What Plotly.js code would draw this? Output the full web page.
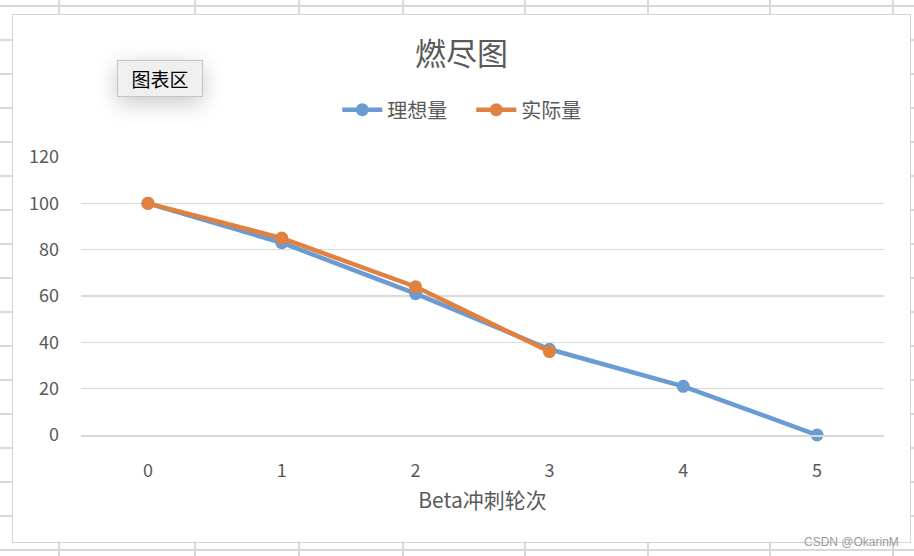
<!DOCTYPE html>
<html>
<head>
<meta charset="utf-8">
<script src="https://cdn.plot.ly/plotly-3.0.1.min.js"></script>
<style>
  html, body { margin: 0; padding: 0; width: 914px; height: 556px; overflow: hidden; background: #ffffff; position: relative; }
  .gl { position: absolute; background: #d9d9d9; }
  #chartbox { position: absolute; left: 12px; top: 14px; width: 899px; height: 529px; background: #fff; border: 1px solid #d4d4d4; box-sizing: border-box; }
  #plot { position: absolute; left: 0; top: 0; width: 897px; height: 527px; }
  #tip { position: absolute; left: 117px; top: 60px; width: 84px; height: 35px; background: #efefef; border: 1px solid #c4c4c4;
         box-shadow: 0 6px 22px rgba(0,0,0,0.22); font-family: "Noto Sans CJK SC", sans-serif; font-size: 19px; color: #000;
         line-height: 35px; text-align: center; z-index: 5; }
  #wm { position: absolute; left: 804px; top: 535px; font-family: "Liberation Sans", Arial, sans-serif; font-size: 12px; color: #9a9a9a; z-index: 6; }
</style>
</head>
<body>
<div id="chartbox"><div id="plot"></div></div>
<div id="tip">图表区</div>
<div id="wm">CSDN @OkarinM</div>
<script>
// ---- data ----
const sprints = ['0', '1', '2', '3', '4', '5'];
const idealValues = [100, 83, 61, 37, 21, 0];
const actualSprints = ['0', '1', '2', '3'];
const actualValues = [100, 85, 64, 36];
const yTicks = [0, 20, 40, 60, 80, 100, 120];
const chartTitle = '燃尽图';
const xTitle = 'Beta冲刺轮次';
const idealName = '理想量';
const actualName = '实际量';

// ---- spreadsheet background grid ----
const colLines = [58, 194, 298, 402, 524, 647, 769, 892];
for (const x of colLines) {
  const d = document.createElement('div'); d.className = 'gl';
  d.style.left = x + 'px'; d.style.top = '0px'; d.style.width = '2px'; d.style.height = '556px';
  document.body.insertBefore(d, document.body.firstChild);
}
for (let y = 5; y < 556; y += 34) {
  const d = document.createElement('div'); d.className = 'gl';
  d.style.left = '0px'; d.style.top = y + 'px'; d.style.width = '914px'; d.style.height = '2px';
  document.body.insertBefore(d, document.body.firstChild);
}

const fontFam = '"Noto Sans CJK SC", "Noto Sans", sans-serif';
const blue = '#6a9bd2';
const orange = '#e1813f';

const traces = [
  { x: sprints, y: idealValues, name: idealName, type: 'scatter', mode: 'lines+markers', cliponaxis: false,
    line: { color: blue, width: 4.5 }, marker: { color: blue, size: 13 } },
  { x: actualSprints, y: actualValues, name: actualName, type: 'scatter', mode: 'lines+markers', cliponaxis: false,
    line: { color: orange, width: 4.5 }, marker: { color: orange, size: 13 } }
];

const layout = {
  width: 897, height: 527,
  margin: { l: 68, r: 26, t: 142, b: 107, autoexpand: false },
  paper_bgcolor: '#ffffff', plot_bgcolor: '#ffffff',
  font: { family: fontFam, color: '#595959', size: 18 },
  title: { text: chartTitle, font: { size: 31, color: '#595959', family: fontFam },
           xref: 'container', x: 0.5, xanchor: 'center', yref: 'container', y: 0.926, yanchor: 'middle' },
  showlegend: true,
  legend: { orientation: 'h', xref: 'paper', x: 0.486, xanchor: 'center', y: 1.17, yanchor: 'middle',
            itemwidth: 40, entrywidth: 79, entrywidthmode: 'pixels',
            font: { size: 20, color: '#595959', family: fontFam } },
  xaxis: { type: 'category', categoryorder: 'array', categoryarray: sprints, range: [-0.5, 5.5],
           showgrid: false, zeroline: false, showline: true, linecolor: '#d9d9d9', linewidth: 1.5,
           ticks: '', ticklabelstandoff: 19, tickfont: { size: 18, color: '#595959' },
           title: { text: xTitle, font: { size: 21, color: '#595959', family: fontFam }, standoff: 12 },
           fixedrange: true },
  yaxis: { range: [0, 120], tickvals: yTicks, ticktext: yTicks.map(String),
           showgrid: true, gridcolor: '#d9d9d9', gridwidth: 1.5, zeroline: false, showline: false,
           ticks: '', ticklabelstandoff: 21, tickfont: { size: 18, color: '#595959' }, fixedrange: true }
};

Plotly.newPlot('plot', traces, layout, { displayModeBar: false, staticPlot: true });
</script>
</body>
</html>
